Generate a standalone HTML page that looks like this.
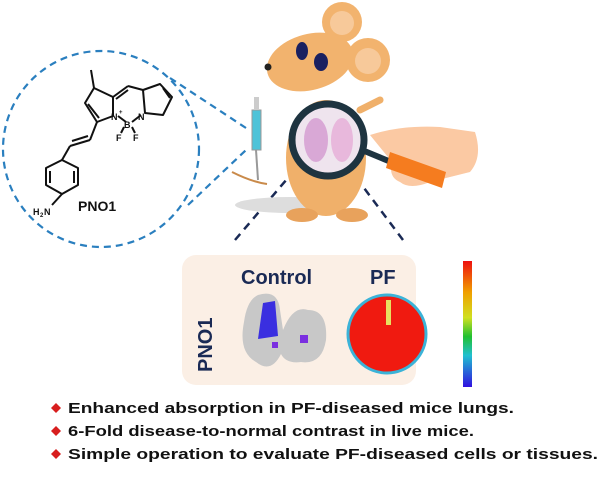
<!DOCTYPE html>
<html><head><meta charset="utf-8"><style>
html,body{margin:0;padding:0;background:#fff;}
svg{display:block;font-family:"Liberation Sans",Arial,sans-serif;}
</style></head><body>
<svg width="600" height="481" viewBox="0 0 600 481" xmlns="http://www.w3.org/2000/svg">
<circle cx="101" cy="149" r="98" fill="none" stroke="#2a7fbf" stroke-width="2.2" stroke-dasharray="7,5"/>
<line x1="170" y1="78" x2="246" y2="128" stroke="#2a7fbf" stroke-width="2.2" stroke-dasharray="7,5"/>
<line x1="188" y1="205" x2="246" y2="150" stroke="#2a7fbf" stroke-width="2.2" stroke-dasharray="7,5"/>
<g stroke="#111" stroke-width="2" fill="none" stroke-linejoin="round">
<line x1="91" y1="70" x2="94" y2="88"/>
<polygon points="94,88 113,97 113,116 97,122 85,103"/>
<line x1="88" y1="104" x2="99" y2="118"/>
<line x1="113" y1="97" x2="128" y2="86"/>
<line x1="128" y1="86" x2="143" y2="90"/>
<line x1="116" y1="99" x2="128" y2="90"/>
<polygon points="143,90 160,84 172,97 163,115 145,113"/>
<line x1="163" y1="88" x2="170" y2="98"/>
<line x1="118" y1="116" x2="126" y2="122"/>
<line x1="132" y1="122" x2="141" y2="115"/>
<line x1="124" y1="127" x2="121" y2="133"/>
<line x1="132" y1="127" x2="135" y2="133"/>
<line x1="97" y1="122" x2="90" y2="140"/>
<line x1="90" y1="140" x2="70" y2="146"/>
<line x1="88" y1="136" x2="72" y2="141"/>
<line x1="70" y1="146" x2="62" y2="160"/>
<polygon points="62,160 78,168 78,185 62,194 46,185 46,168"/>
<line x1="50" y1="171" x2="50" y2="183"/>
<line x1="74" y1="171" x2="74" y2="183"/>
<line x1="62" y1="194" x2="52" y2="205"/>
</g>
<g font-size="9" font-weight="bold" fill="#111">
<text x="111" y="120">N</text><text x="119" y="114" font-size="6">+</text>
<text x="124" y="128">B</text><text x="138" y="120">N</text>
<text x="116" y="141">F</text><text x="133" y="141">F</text>
<text x="33" y="215">H</text><text x="40" y="217" font-size="6">2</text><text x="44" y="215">N</text>
</g>
<text x="78" y="211" font-size="14" font-weight="bold" fill="#111">PNO1</text>
<line x1="235" y1="240" x2="293" y2="172" stroke="#1a2a55" stroke-width="2.5" stroke-dasharray="8,6"/>
<line x1="403" y1="240" x2="355" y2="176" stroke="#1a2a55" stroke-width="2.5" stroke-dasharray="8,6"/>
<ellipse cx="290" cy="205" rx="55" ry="8" fill="#ddd"/>
<path d="M232,172 q20,10 35,12" stroke="#c98a4a" stroke-width="2" fill="none"/>
<!-- body -->
<ellipse cx="326" cy="158" rx="40" ry="58" fill="#f0b06a"/>
<ellipse cx="302" cy="215" rx="16" ry="7" fill="#e8a25c"/>
<ellipse cx="352" cy="215" rx="16" ry="7" fill="#e8a25c"/>
<path d="M360,110 l20,-10" stroke="#f0b06a" stroke-width="7" stroke-linecap="round"/>
<!-- head -->
<circle cx="342" cy="22" r="20" fill="#f2b36e"/><circle cx="342" cy="23" r="12" fill="#f7c99a"/>
<ellipse cx="310" cy="62" rx="44" ry="28" transform="rotate(-15 310 62)" fill="#f2b36e"/>
<path d="M266,66 l30,-25 l5,40 z" fill="#f2b36e"/>
<circle cx="368" cy="60" r="22" fill="#f2b36e"/><circle cx="368" cy="61" r="13" fill="#f7c99a"/>
<ellipse cx="302" cy="51" rx="6" ry="9" fill="#1a2060"/>
<ellipse cx="321" cy="62" rx="7" ry="9" fill="#1a2060"/>
<circle cx="268" cy="67" r="3.5" fill="#222"/>
<!-- syringe -->
<rect x="252" y="110" width="9" height="40" fill="#4ec3d8" stroke="#999"/>
<rect x="254" y="97" width="5" height="13" fill="#ccc"/>
<line x1="256" y1="150" x2="258" y2="180" stroke="#999" stroke-width="2"/>
<!-- magnifier -->
<circle cx="328" cy="140" r="36" fill="#efe4ee" stroke="#1e3440" stroke-width="7"/>
<ellipse cx="316" cy="140" rx="12" ry="22" fill="#d9a8d6"/>
<ellipse cx="342" cy="140" rx="11" ry="22" fill="#e8b8dc"/>
<path d="M362,150 L430,178" stroke="#1e3440" stroke-width="6"/>
<path d="M370,135 q30,-10 70,-8 l35,5 q8,25 -5,40 l-40,10 q-20,8 -30,0 q-12,-5 -8,-20 z" fill="#fbc9a3"/>
<path d="M390,152 L446,172 L442,188 L386,168 z" fill="#f57c1f"/>
<!-- box -->
<rect x="182" y="255" width="234" height="130" rx="14" fill="#fbefe5"/>
<text x="241" y="284" font-size="20" font-weight="bold" fill="#1a2a55">Control</text>
<text x="370" y="284" font-size="20" font-weight="bold" fill="#1a2a55">PF</text>
<text transform="translate(212,372) rotate(-90)" font-size="20" font-weight="bold" fill="#1a2a55">PNO1</text>
<path d="M258,295 q20,-6 22,15 l3,20 q10,-25 25,-20 q20,0 18,30 q-4,25 -25,22 q-15,2 -20,-8 q-10,20 -25,8 q-18,-10 -12,-40 q3,-22 14,-27z" fill="#c8c8c8"/>
<path d="M263,303 l12,-2 l3,35 l-20,3 z" fill="#3a2fe0"/>
<rect x="300" y="335" width="8" height="8" fill="#7b2fe0"/>
<rect x="272" y="342" width="6" height="6" fill="#7b2fe0"/>
<circle cx="387" cy="334" r="39" fill="#f01a10" stroke="#3bb3d8" stroke-width="3"/>
<rect x="386" y="300" width="5" height="25" fill="#e8e060"/>
<defs><linearGradient id="g" x1="0" y1="0" x2="0" y2="1">
<stop offset="0" stop-color="#ee1010"/><stop offset="0.25" stop-color="#f0a000"/><stop offset="0.45" stop-color="#d0e020"/><stop offset="0.6" stop-color="#20c030"/><stop offset="0.75" stop-color="#20c0d0"/><stop offset="1" stop-color="#3010e0"/></linearGradient></defs>
<rect x="463" y="261" width="9" height="126" fill="url(#g)"/>
<g font-size="15" font-weight="bold" fill="#111">
<polygon points="56,403 61,408 56,413 51,408" fill="#d81e1e"/>
<text x="68" y="413" textLength="446" lengthAdjust="spacingAndGlyphs">Enhanced absorption in PF-diseased mice lungs.</text>
<polygon points="56,426 61,431 56,436 51,431" fill="#d81e1e"/>
<text x="68" y="436" textLength="406" lengthAdjust="spacingAndGlyphs">6-Fold disease-to-normal contrast in live mice.</text>
<polygon points="56,449 61,454 56,459 51,454" fill="#d81e1e"/>
<text x="68" y="459" textLength="530" lengthAdjust="spacingAndGlyphs">Simple operation to evaluate PF-diseased cells or tissues.</text>
</g>
</svg>
</body></html>
